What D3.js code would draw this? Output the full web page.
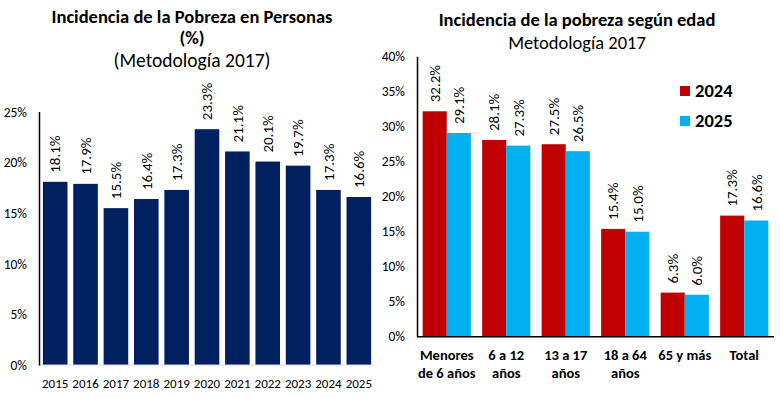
<!DOCTYPE html>
<html>
<head>
<meta charset="utf-8">
<script src="https://cdn.jsdelivr.net/npm/d3@7"></script>
<style>
  body { margin: 0; background: #fff; }
  svg { font-family: Carlito, Calibri, Lato, sans-serif; }
</style>
</head>
<body>
<svg id="chart" width="780" height="398"></svg>
<script>
// left chart data
const years = ["2015","2016","2017","2018","2019","2020","2021","2022","2023","2024","2025"];
const povertyRate = [18.1, 17.9, 15.5, 16.4, 17.3, 23.3, 21.1, 20.1, 19.7, 17.3, 16.6];
const leftTicks = [0, 5, 10, 15, 20, 25];

// right chart data
const ageGroups = [["Menores", "de 6 años"], ["6 a 12", "años"], ["13 a 17", "años"], ["18 a 64", "años"], ["65 y más"], ["Total"]];
const seriesNames = ["2024", "2025"];
const rate2024 = [32.2, 28.1, 27.5, 15.4, 6.3, 17.3];
const rate2025 = [29.1, 27.3, 26.5, 15.0, 6.0, 16.6];
const rightTicks = [0, 5, 10, 15, 20, 25, 30, 35, 40];

const colors = { navy: "#002060", red: "#C00000", blue: "#00B0F0" };
const svg = d3.select("#chart");

// ---- left chart ----
const xL = d3.scaleBand().domain(years).range([40, 374]).paddingInner(0.19).paddingOuter(0.095);
const yL = d3.scaleLinear().domain([0, 25]).range([365, 112]);

const left = svg.append("g");

left.append("text").attr("x", 192).attr("y", 22.5).attr("text-anchor", "middle")
  .attr("font-weight", "bold").attr("font-size", 18.5).text("Incidencia de la Pobreza en Personas");
left.append("text").attr("x", 192).attr("y", 43.5).attr("text-anchor", "middle")
  .attr("font-weight", "bold").attr("font-size", 18.5).text("(%)");
left.append("text").attr("x", 192).attr("y", 67).attr("text-anchor", "middle")
  .attr("font-size", 19.5).text("(Metodología 2017)");

left.selectAll("text.ytick").data(leftTicks).enter().append("text")
  .attr("class", "ytick").attr("x", 27).attr("y", d => yL(d)).attr("dy", "0.35em")
  .attr("text-anchor", "end").attr("font-size", 13.5).text(d => d + "%");

left.selectAll("rect").data(povertyRate).enter().append("rect")
  .attr("x", (d, i) => xL(years[i])).attr("y", d => yL(d))
  .attr("width", xL.bandwidth()).attr("height", d => yL(0) - yL(d))
  .attr("fill", colors.navy);

left.append("line").attr("x1", 40).attr("x2", 374).attr("y1", yL(0)).attr("y2", yL(0))
  .attr("stroke", "#d9d9d9").attr("stroke-width", 1);
left.append("line").attr("x1", 39.5).attr("x2", 39.5).attr("y1", yL(25)).attr("y2", yL(0) + 0.5)
  .attr("stroke", "#000").attr("stroke-width", 1.5);

left.selectAll("text.xlab").data(years).enter().append("text")
  .attr("class", "xlab").attr("x", d => xL(d) + xL.bandwidth() / 2).attr("y", 387.5)
  .attr("text-anchor", "middle").attr("font-size", 13).text(d => d);

left.selectAll("text.val").data(povertyRate).enter().append("text")
  .attr("class", "val").attr("text-anchor", "start").attr("dy", "0.35em")
  .attr("font-size", 15)
  .attr("transform", (d, i) => "translate(" + (xL(years[i]) + xL.bandwidth() / 2) + "," + (yL(d) - 9) + ") rotate(-90)")
  .text(d => d.toFixed(1) + "%");

// ---- right chart ----
const groupKeys = ageGroups.map((d, i) => "g" + i);
const x0 = d3.scaleBand().domain(groupKeys).range([417, 774]).paddingInner(0.19).paddingOuter(0.095);
const x1 = d3.scaleBand().domain(seriesNames).range([0, x0.bandwidth()]);
const yR = d3.scaleLinear().domain([0, 40]).range([336.7, 56.7]);
const seriesData = [rate2024, rate2025];
const seriesColor = [colors.red, colors.blue];

const right = svg.append("g");

right.append("text").attr("x", 577).attr("y", 26).attr("text-anchor", "middle")
  .attr("font-weight", "bold").attr("font-size", 18.5).text("Incidencia de la pobreza según edad");
right.append("text").attr("x", 577).attr("y", 48.5).attr("text-anchor", "middle")
  .attr("font-size", 18.5).text("Metodología 2017");

right.selectAll("text.ytick").data(rightTicks).enter().append("text")
  .attr("class", "ytick").attr("x", 405).attr("y", d => yR(d)).attr("dy", "0.35em")
  .attr("text-anchor", "end").attr("font-size", 13.5).text(d => d + "%");

seriesNames.forEach((s, si) => {
  right.selectAll("rect.s" + si).data(seriesData[si]).enter().append("rect")
    .attr("class", "s" + si)
    .attr("x", (d, i) => x0(groupKeys[i]) + x1(s)).attr("y", d => yR(d))
    .attr("width", x1.bandwidth()).attr("height", d => yR(0) - yR(d))
    .attr("fill", seriesColor[si]);
  right.selectAll("text.v" + si).data(seriesData[si]).enter().append("text")
    .attr("class", "v" + si).attr("text-anchor", "start").attr("dy", "0.35em")
    .attr("font-size", 15)
    .attr("transform", (d, i) => "translate(" + (x0(groupKeys[i]) + x1(s) + x1.bandwidth() / 2) + "," + (yR(d) - 9) + ") rotate(-90)")
    .text(d => d.toFixed(1) + "%");
});

right.append("line").attr("x1", 417).attr("x2", 774).attr("y1", yR(0)).attr("y2", yR(0))
  .attr("stroke", "#000").attr("stroke-width", 1.5);
right.append("line").attr("x1", 417.5).attr("x2", 417.5).attr("y1", yR(40)).attr("y2", yR(0))
  .attr("stroke", "#000").attr("stroke-width", 1.5);

ageGroups.forEach((lines, i) => {
  lines.forEach((ln, li) => {
    right.append("text").attr("x", x0(groupKeys[i]) + x0.bandwidth() / 2).attr("y", 360 + li * 18)
      .attr("text-anchor", "middle").attr("font-weight", "bold").attr("font-size", 14.5).text(ln);
  });
});

// legend
seriesNames.forEach((s, si) => {
  const ly = 91 + si * 30;
  right.append("rect").attr("x", 680).attr("y", ly - 5).attr("width", 10).attr("height", 10)
    .attr("fill", seriesColor[si]);
  right.append("text").attr("x", 695).attr("y", ly).attr("dy", "0.35em")
    .attr("font-weight", "bold").attr("font-size", 18.5).text(s);
});
</script>
</body>
</html>
